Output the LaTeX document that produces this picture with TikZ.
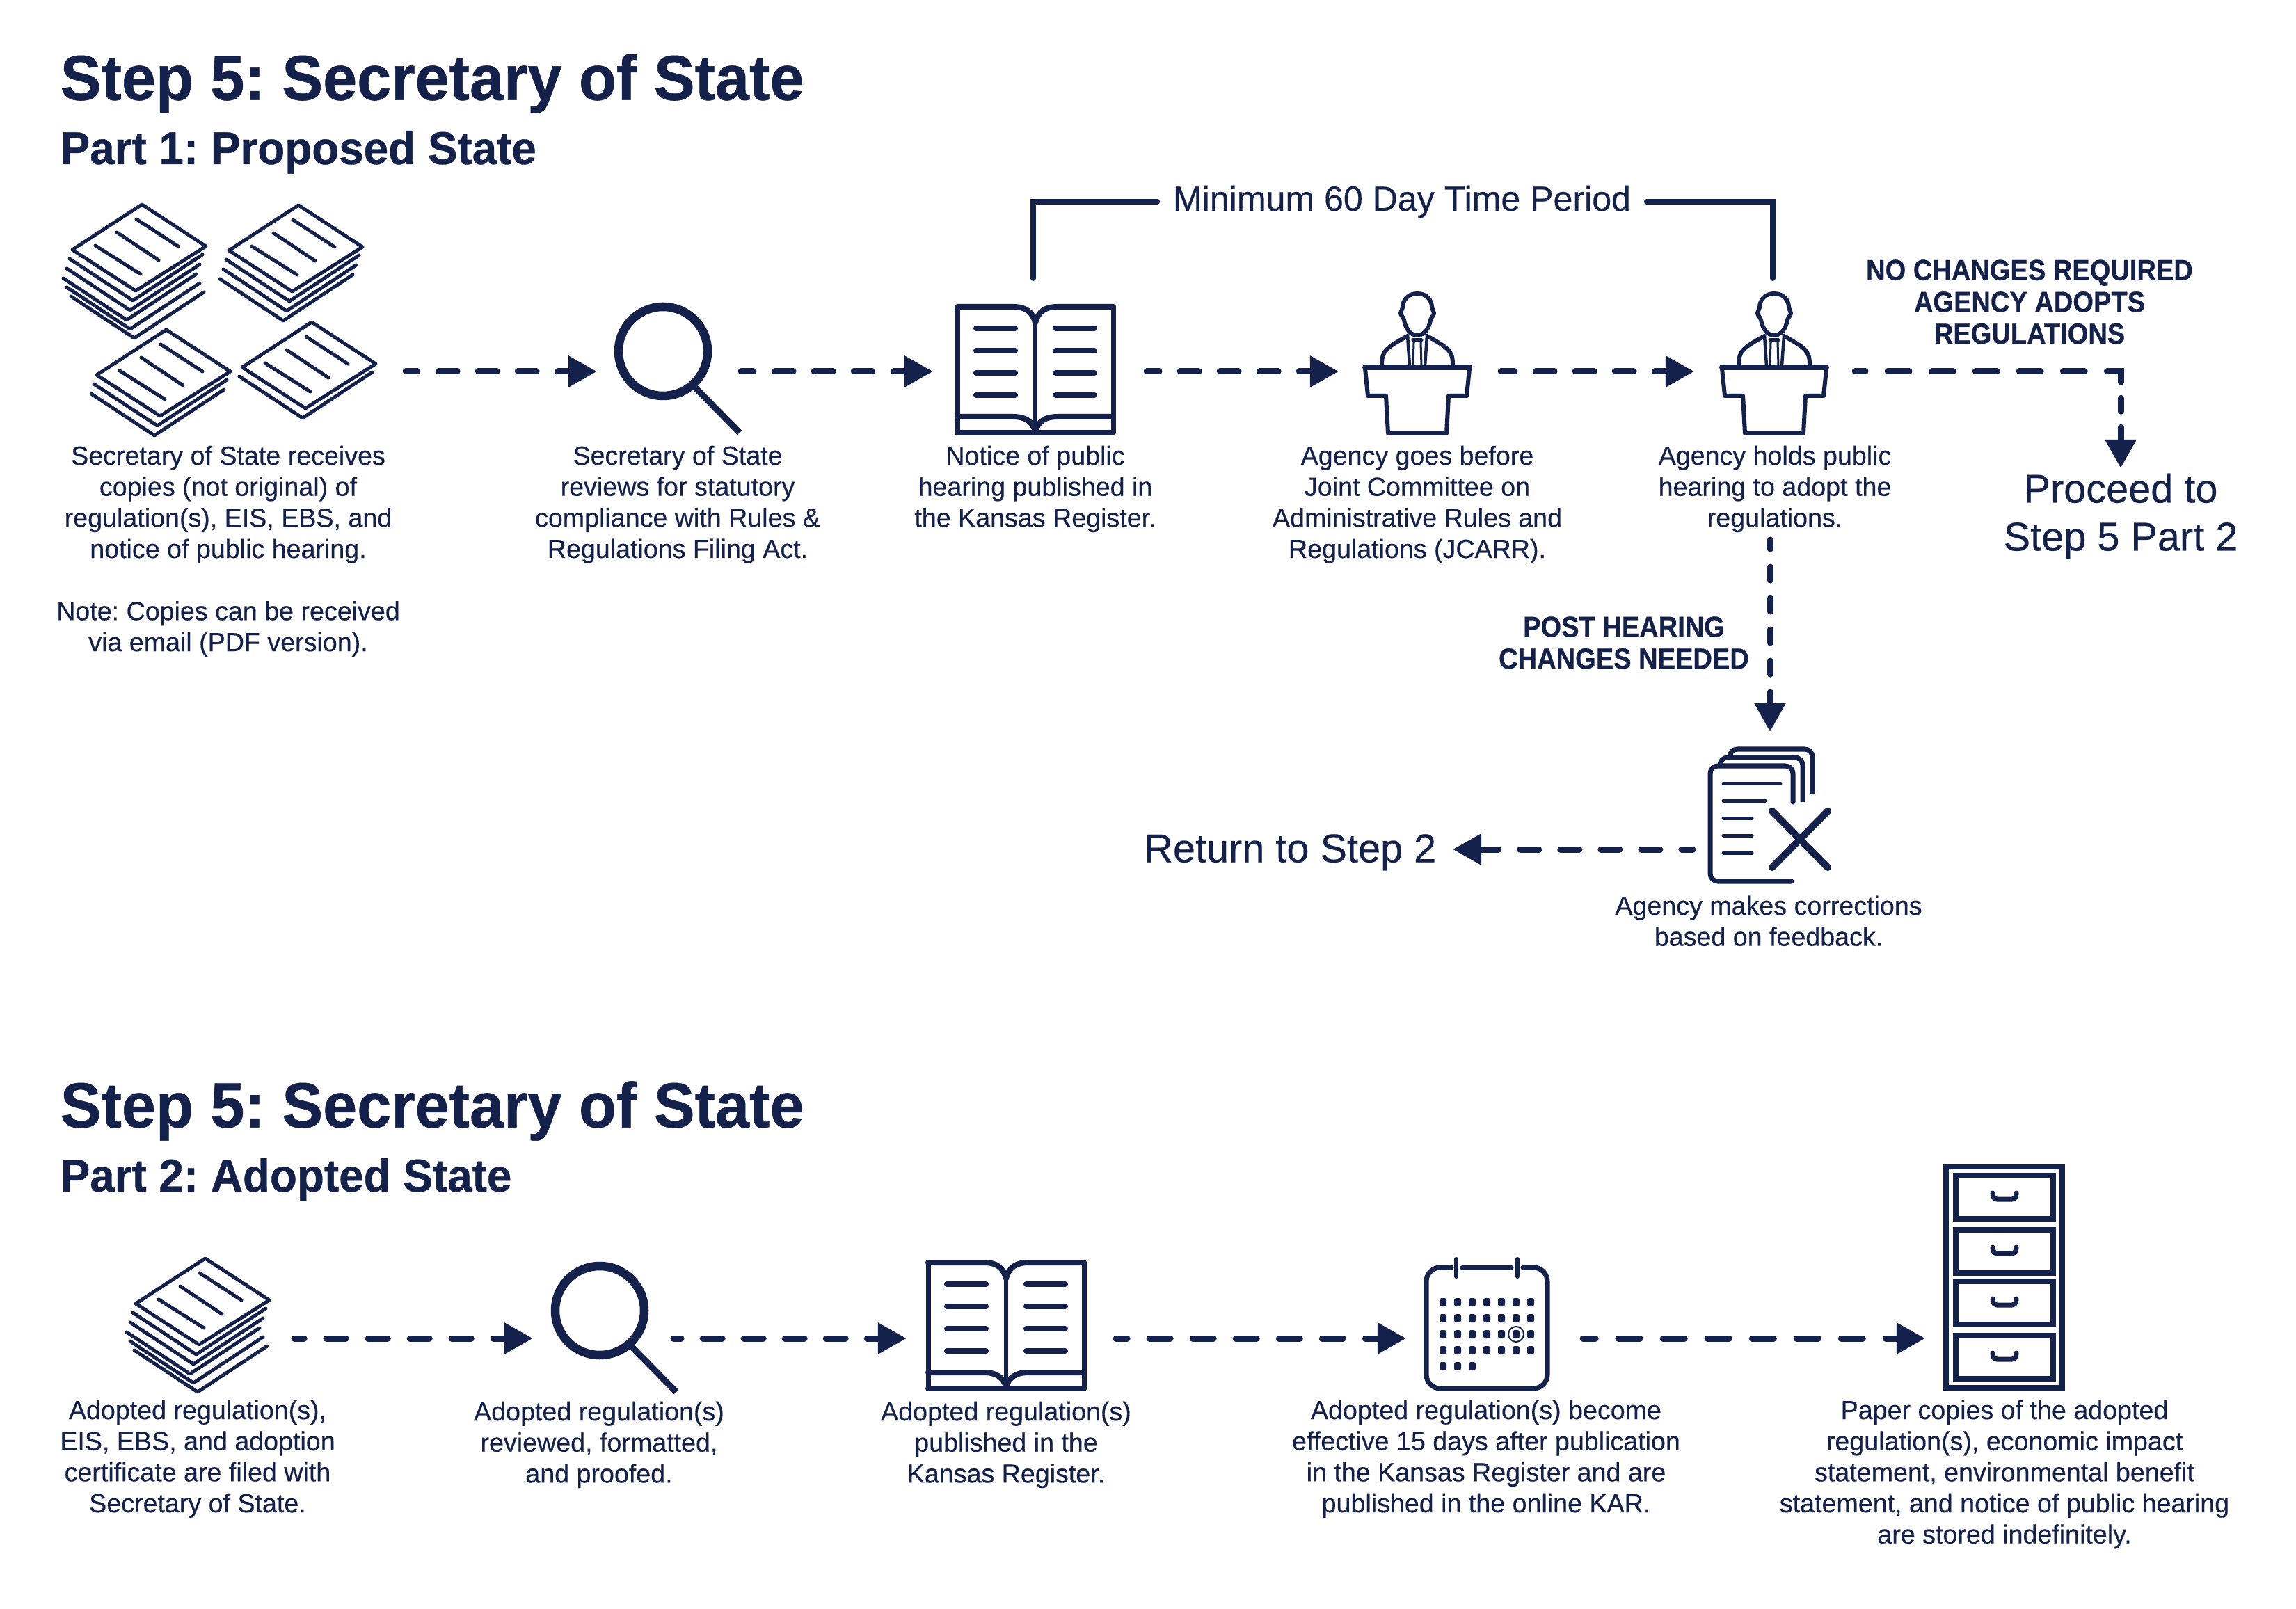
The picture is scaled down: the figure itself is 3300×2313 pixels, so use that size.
\documentclass[tikz,border=0pt]{standalone}
\usepackage{fontspec}
\setmainfont{Liberation Sans}
\newfontfamily\medfont{Liberation Sans}[FakeBold=0.35]
\newfontfamily\heavyfont{Liberation Sans}[BoldFeatures={FakeStretch=0.965,FakeBold=0.6}]
\newfontfamily\shoutfont{Liberation Sans}[BoldFeatures={FakeStretch=0.91,FakeBold=0.4}]
\usetikzlibrary{arrows.meta, positioning}
\definecolor{navy}{HTML}{14214B}
\frenchspacing

\begin{document}
\begin{tikzpicture}[
    x=0.01cm, y=-0.01cm,
    iconbox/.style = {rectangle, inner sep=0pt, outer sep=0pt, minimum height=2cm},
    caption/.style = {rectangle, inner sep=0pt, align=center, text=navy,
                      execute at begin node={\rule{0pt}{0.3cm}},
                      font=\medfont\fontsize{10.7pt}{12.7pt}\selectfont},
    shout/.style   = {rectangle, inner sep=0pt, align=center, text=navy,
                      font=\shoutfont\bfseries\fontsize{11.9pt}{13pt}\selectfont},
    large/.style   = {rectangle, inner sep=0pt, align=center, text=navy,
                      font=\medfont\fontsize{16.4pt}{19.6pt}\selectfont},
    headline/.style= {rectangle, inner sep=0pt, anchor=west, text=navy,
                      font=\heavyfont\bfseries\fontsize{26pt}{30pt}\selectfont},
    partline/.style= {rectangle, inner sep=0pt, text=navy,
                      font=\heavyfont\bfseries\fontsize{18.8pt}{22pt}\selectfont},
    flow/.style    = {draw=navy, line width=0.09cm, line cap=round, shorten <=0.04cm,
                      -{Triangle[length=4.1mm,width=4.3mm]}},
    dashes/.style n args = {3}{dash pattern=on #1cm off #2cm, dash phase=#3cm},
    bracket/.style = {draw=navy, line width=0.08cm, line cap=round},
    icon/.style    = {draw=navy, line width=0.06cm, line cap=round, line join=round},
    pics/stack/.style = {code={
      \draw[icon, line width=0.05cm] (0,0) -- (92,60) -- (-9,124) -- (-100,65) -- cycle;
      \draw[icon, line width=0.05cm] (-8,21) -- (52,60);
      \draw[icon, line width=0.05cm] (-36,40) -- (24,80);
      \draw[icon, line width=0.05cm] (-67,59) -- (-2,100);
      \foreach \dx/\dy in {#1}
        \draw[icon, line width=0.05cm, shift={(\dx,\dy)}] (-104,78) -- (-13,138) -- (87,72);
    }},
    glass/.pic = {
      \draw[draw=navy, line width=0.125cm] (0,0) circle (64);
      \draw[draw=navy, line width=0.09cm] (46,52) -- (110,117);
    },
    book/.pic = {
      \draw[icon, line width=0.07cm] (-112,-93) -- (-112,88) -- (112,88) -- (112,-93);
      \draw[icon, line width=0.08cm] (-112,-93) -- (-32,-93) .. controls (-14,-93) and (-4,-86) .. (0,-70)
            .. controls (4,-86) and (14,-93) .. (32,-93) -- (112,-93);
      \draw[icon, line width=0.08cm] (-112,65) -- (-32,65) .. controls (-14,65) and (-4,72) .. (0,86)
            .. controls (4,72) and (14,65) .. (32,65) -- (112,65);
      \draw[icon, line width=0.08cm] (-112,88) -- (112,88);
      \draw[icon] (0,-72) -- (0,86);
      \foreach \ly in {-62,-30,2,34} {
        \draw[icon, line width=0.08cm] (-85,\ly) -- (-29,\ly);
        \draw[icon, line width=0.08cm] (29,\ly) -- (85,\ly);
      }
    },
    speaker/.pic = {
      \draw[icon, line width=0.08cm] (-75,-6) -- (75,-6);
      \draw[icon] (-75,-4) -- (-71,35) -- (-45,35) -- (-42,89) -- (42,89) -- (45,35) -- (71,35) -- (75,-4);
      \foreach \s in {-1,1} {
        \draw[icon] (0,-112) .. controls ({\s*13},-112) and ({\s*21},-103) .. ({\s*21},-92)
              .. controls ({\s*21},-89) and ({\s*24},-87) .. ({\s*24},-84)
              .. controls ({\s*24},-81) and ({\s*20},-78) .. ({\s*19},-74)
              .. controls ({\s*17},-62) and ({\s*10},-52) .. (0,-52);
        \draw[icon] ({\s*16},-50) .. controls ({\s*44},-34) and ({\s*51},-30) .. ({\s*51},-10);
        \draw[icon, line width=0.045cm] ({\s*14},-52) -- ({\s*11},-8);
        \draw[icon, line width=0.03cm] ({\s*5},-42) -- ({\s*6},-8);
      }
      \draw[icon, line width=0.05cm] (-6,-45) -- (6,-45);
    },
    drawer/.pic = {
      \draw[icon, line width=0.08cm, line join=miter] (2811,4) rectangle (2951,66);
      \draw[icon, line width=0.07cm, rounded corners=0.05cm] (2864,29) -- (2865,38) -- (2897,38) -- (2898,29);
    }
]
\path[fill=white, use as bounding box] (0,0) rectangle (3300,2313);

%% -- Part 1: Proposed ---------------------------------------
\node[headline] (head_a) at (86,120) {Step 5: Secretary of State};
\node[partline, below=0.24cm of head_a.south west, anchor=north west] (part_a) {Part 1: Proposed State};

\node[iconbox, minimum width=5.02cm] (pile_a) at (328,534) {};
\node[iconbox, minimum width=2.03cm] (glass_a) at (959.5,534) {};
\node[iconbox, minimum width=3.03cm] (book_a) at (1492.5,534) {};
\node[iconbox, minimum width=2.29cm] (pod_a) at (2038.5,534) {};
\node[iconbox, minimum width=2.27cm] (pod_b) at (2548.5,534) {};

\pic at (204,294) {stack={0/0,-4/14,-9/28,-4/41,2/54}};
\pic at (429,295) {stack={0/0,-4/14,-9/28}};
\pic at (239,474) {stack={0/0,-4/14}};
\pic at (448,463) {stack={0/0}};
\pic at (953,505) {glass};
\pic at (1488,534) {book};
\pic at (2037,534) {speaker};
\pic at (2550,534) {speaker};

\node[caption, below=0.06cm of pile_a] (cap_pile_a)
  {Secretary of State receives\\copies (not original) of\\regulation(s), EIS, EBS, and\\notice of public hearing.\\[0.447cm]Note: Copies can be received\\via email (PDF version).};
\node[caption, below=0.06cm of glass_a, xshift=0.145cm] (cap_glass_a)
  {Secretary of State\\reviews for statutory\\compliance with Rules \&\\Regulations Filing Act.};
\node[caption, below=0.06cm of book_a, xshift=-0.045cm] (cap_book_a)
  {Notice of public\\hearing published in\\the Kansas Register.};
\node[caption, below=0.06cm of pod_a, xshift=-0.015cm] (cap_pod_a)
  {Agency goes before\\Joint Committee on\\Administrative Rules and\\Regulations (JCARR).};
\node[caption, below=0.06cm of pod_b, xshift=0.025cm] (cap_pod_b)
  {Agency holds public\\hearing to adopt the\\regulations.};

%% -- Time period bracket ------------------------------------
\node[large, inner xsep=0.22cm, font=\medfont\fontsize{14.25pt}{16pt}\selectfont] (min_days) at (2015,290) {Minimum 60 Day Time Period};
\coordinate (book_top) at (1485,400);
\coordinate (pod_top) at (2548,400);
\draw[bracket] (min_days.west) -| (book_top);
\draw[bracket] (min_days.east) -| (pod_top);

%% -- Outcomes ------------------------------------------------
\node[shout] (no_change) at (2917,434) {NO CHANGES REQUIRED\\AGENCY ADOPTS\\REGULATIONS};
\node[large, inner ysep=0.05cm, anchor=north] (go_part2) at (3048,675) {Proceed to\\Step 5 Part 2};
\coordinate (go_tip) at (3048,673);
\node[shout] (post_hear) at (2334,924) {POST HEARING\\CHANGES NEEDED};

\node[iconbox, minimum width=2.14cm, minimum height=3.38cm] (fix_doc) at (2544,1221) {};
\node[large, inner xsep=0.23cm, anchor=east, text height=0.49cm] (go_step2) at (2088,1221) {Return to Step 2};
\node[caption, anchor=north] (cap_fix) at (2542,1287) {Agency makes corrections\\based on feedback.};
\coordinate (post_start) at (2544,772);

% corrections icon
\draw[icon, line width=0.07cm, rounded corners=0.11cm] (2577,1153) -- (2577,1101) -- (2458,1101) -- (2458,1267) -- (2575,1267);
\draw[icon, line width=0.07cm, rounded corners=0.11cm, line cap=butt] (2472,1100) -- (2472,1089) -- (2591,1089) -- (2591,1153);
\draw[icon, line width=0.07cm, rounded corners=0.11cm, line cap=butt] (2486,1086) -- (2486,1077) -- (2605,1077) -- (2605,1142);
\draw[icon, line width=0.05cm] (2477,1126) -- (2559,1126);
\draw[icon, line width=0.05cm] (2477,1151) -- (2537,1151);
\foreach \ly in {1176,1201,1226}
  \draw[icon, line width=0.05cm] (2477,\ly) -- (2518,\ly);
\draw[icon, line width=0.1cm] (2547,1166) -- (2627,1247);
\draw[icon, line width=0.1cm] (2627,1166) -- (2547,1247);

\draw[flow, dashes={0.27}{0.30}{0.10}] (pile_a.east) -- (glass_a.west);
\draw[flow, dashes={0.27}{0.30}{0.09}] (glass_a.east) -- (book_a.west);
\draw[flow, dashes={0.27}{0.30}{0.09}] (book_a.east) -- (pod_a.west);
\draw[flow, dashes={0.27}{0.30}{0.07}] (pod_a.east) -- (pod_b.west);
\draw[flow, dash pattern=on 0.15cm off 0.32cm on 0.31cm off 0.32cm on 0.31cm off 0.32cm on 0.31cm off 0.32cm on 0.31cm off 0.32cm on 0.31cm off 0.32cm on 0.35cm off 0.23cm on 0.19cm off 0.23cm on 0.4cm]
  (pod_b.east) -| (go_tip);
\draw[flow, dashes={0.19}{0.26}{0.06}] (post_start) -- (fix_doc.north);
\draw[flow, dashes={0.27}{0.31}{0.11}] (fix_doc.west) -- (go_step2.east);

%% -- Part 2: Adopted ----------------------------------------
\node[headline] (head_b) at (86,1597) {Step 5: Secretary of State};
\node[partline, below=0.24cm of head_b.south west, anchor=north west] (part_b) {Part 2: Adopted State};

\node[iconbox, minimum width=2.70cm, minimum height=1.68cm] (pile_b) at (284,1924) {};
\node[iconbox, minimum width=1.98cm, minimum height=1.68cm] (glass_b) at (865,1924) {};
\node[iconbox, minimum width=2.97cm, minimum height=1.68cm] (book_b) at (1451.5,1924) {};
\node[iconbox, minimum width=2.50cm, minimum height=1.68cm] (cal_b) at (2146,1924) {};
\node[iconbox, minimum width=2.28cm, minimum height=1.68cm] (cab_b) at (2881,1924) {};

\pic at (295,1809) {stack={0/0,-4/14,-9/28,-4/41,2/54}};
\pic at (862,1884) {glass};
\pic at (1446,1908) {book};

% calendar icon
\begin{scope}[shift={(2137,1918)}]
  \draw[icon, line width=0.07cm, rounded corners=0.2cm] (-51,-96) -- (-87,-96) -- (-87,78) -- (87,78) -- (87,-96) -- (52,-96);
  \draw[icon, line width=0.07cm] (-35,-96) -- (35,-96);
  \draw[icon] (-44,-108) -- (-44,-83);
  \draw[icon] (44,-108) -- (44,-83);
  \foreach \ly in {-46,-23,0,23}
    \foreach \lx in {-63,-42,-21,0,21,42,63}
      \fill[navy, rounded corners=0.03cm] (\lx-5,\ly-6) rectangle ++(10,12);
  \foreach \lx in {-63,-42,-21}
    \fill[navy, rounded corners=0.03cm] (\lx-5,40) rectangle ++(10,12);
  \draw[draw=navy, line width=0.02cm] (42,0) circle (11);
\end{scope}

% cabinet icon
\draw[icon, line width=0.08cm, line join=miter] (2797,1677) rectangle (2964,1995);
\foreach \dy in {1686,1764,1838,1916}
  \pic at (0,\dy) {drawer};

\node[caption, below=0.04cm of pile_b] (cap_pile_b)
  {Adopted regulation(s),\\EIS, EBS, and adoption\\certificate are filed with\\Secretary of State.};
\node[caption, below=0.06cm of glass_b, xshift=-0.04cm] (cap_glass_b)
  {Adopted regulation(s)\\reviewed, formatted,\\and proofed.};
\node[caption, below=0.06cm of book_b, xshift=-0.055cm] (cap_book_b)
  {Adopted regulation(s)\\published in the\\Kansas Register.};
\node[caption, below=0.04cm of cal_b, xshift=-0.10cm] (cap_cal_b)
  {Adopted regulation(s) become\\effective 15 days after publication\\in the Kansas Register and are\\published in the online KAR.};
\node[caption, below=0.04cm of cab_b] (cap_cab_b)
  {Paper copies of the adopted\\regulation(s), economic impact\\statement, environmental benefit\\statement, and notice of public hearing\\are stored indefinitely.};

\draw[flow, dashes={0.28}{0.32}{0.14}] (pile_b.east) -- (glass_b.west);
\draw[flow, dashes={0.28}{0.31}{0.17}] (glass_b.east) -- (book_b.west);
\draw[flow, dashes={0.30}{0.32}{0.14}] (book_b.east) -- (cal_b.west);
\draw[flow, dashes={0.31}{0.33}{0.13}] (cal_b.east) -- (cab_b.west);

\end{tikzpicture}
\end{document}
